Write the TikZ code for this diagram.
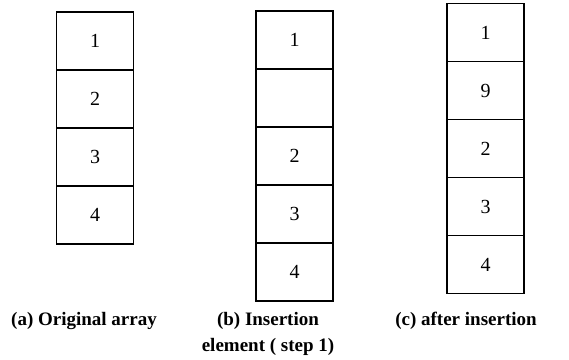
\documentclass[tikz,border=0pt]{standalone}
\usepackage{fontspec}
\setmainfont{Liberation Serif}
\usepackage{tikz}
\usetikzlibrary{positioning}
\tikzset{
  cell/.style={rectangle, draw=black, line width=1.4pt,
    minimum width=77pt, minimum height=58pt, inner sep=0pt, outer sep=0pt,
    font=\fontsize{20}{22}\selectfont},
  caption/.style={font=\fontsize{19}{26}\selectfont\bfseries, align=center, inner sep=0pt}
}

\begin{document}
\begin{tikzpicture}[x=1pt,y=-1pt]
    \useasboundingbox (0,0) rectangle (569,359);
    % (a) original array
    \node[cell] (a1) at (95,41) {1};
    \node[cell, below=0pt of a1] (a2) {2};
    \node[cell, below=0pt of a2] (a3) {3};
    \node[cell, below=0pt of a3] (a4) {4};
    % (b) step 1, a free slot
    \node[cell] (b1) at (294.5,40) {1};
    \node[cell, below=0pt of b1] (b2) {};
    \node[cell, below=0pt of b2] (b3) {2};
    \node[cell, below=0pt of b3] (b4) {3};
    \node[cell, below=0pt of b4] (b5) {4};
    % (c) after insertion
    \node[cell] (c1) at (485.5,32.5) {1};
    \node[cell, below=0pt of c1] (c2) {9};
    \node[cell, below=0pt of c2] (c3) {2};
    \node[cell, below=0pt of c3] (c4) {3};
    \node[cell, below=0pt of c4] (c5) {4};
    % captions
    \node[caption] (capa) at (84,321) {(a) Original array};
    \node[caption] (capb) at (268,334) {(b) Insertion\\element ( step 1)};
    \node[caption] (capc) at (466,321) {(c) after insertion};
  \end{tikzpicture}
\end{document}
